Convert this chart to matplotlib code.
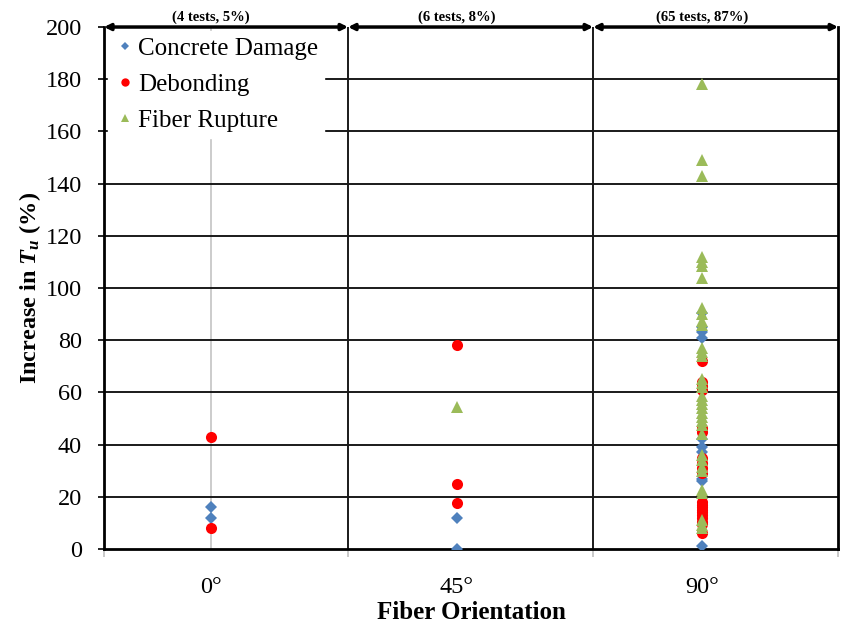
import numpy as np
import matplotlib.pyplot as plt

# Data (x index: 0 -> 0deg, 1 -> 45deg, 2 -> 90deg)
orientations = ['0°', '45°', '90°']
group_notes = ['(4 tests, 5%)', '(6 tests, 8%)', '(65 tests, 87%)']

cd_0 = [16, 12]
cd_45 = [12, 0]
cd_90 = [90.5, 85, 83, 81, 42, 39, 37, 27, 26, 1]

db_0 = [43, 8]
db_45 = [78, 25, 17.5]
db_90 = [72, 64, 62.5, 61, 46.5, 45, 35, 33, 31, 29,
         18, 17, 16, 15, 14, 13, 12, 10.5, 9.5, 6]

fr_0 = []
fr_45 = [54.5]
fr_90 = [178, 149, 143, 112, 110, 108.5, 104, 92.5, 90, 87.5,
         86, 77, 75.5, 74, 65, 63.5, 62, 58.5, 57, 55.5,
         54, 52, 50.5, 49, 47.5, 44, 36, 34, 31.5, 30,
         22.5, 21.5, 11, 9, 8]

# group limits along x (left edge, separators, right edge)
bounds = [-0.436, 0.558, 1.556, 2.554]

plt.rcParams['font.family'] = ['Liberation Serif', 'DejaVu Serif']
plt.rcParams['mathtext.fontset'] = 'custom'
plt.rcParams['mathtext.it'] = 'Liberation Serif:italic:bold'
plt.rcParams['mathtext.rm'] = 'Liberation Serif:bold'

fig = plt.figure(figsize=(8.57, 6.3), dpi=100)
ax = fig.add_axes([0.1214, 0.1286, 0.8566, 0.8285])


def xs(i, vals):
    return [i] * len(vals)


cd_x = xs(0, cd_0) + xs(1, cd_45) + xs(2, cd_90)
cd_y = cd_0 + cd_45 + cd_90
db_x = xs(0, db_0) + xs(1, db_45) + xs(2, db_90)
db_y = db_0 + db_45 + db_90
fr_x = xs(0, fr_0) + xs(1, fr_45) + xs(2, fr_90)
fr_y = fr_0 + fr_45 + fr_90

ax.plot(cd_x, cd_y, 'D', color='#4F81BD', markersize=6, markeredgewidth=0,
        label='Concrete Damage', zorder=4)
ax.plot(db_x, db_y, 'o', color='#FF0000', markersize=8, markeredgewidth=0,
        label='Debonding', zorder=4)
ax.plot(fr_x, fr_y, '^', color='#9BBB59', markersize=8, markeredgewidth=0,
        label='Fiber Rupture', zorder=4)

# grid and separators
for v in range(20, 200, 20):
    ax.axhline(v, color='#1a1a1a', lw=1.4, zorder=2)
ax.axvline(0, color='#c8c8c8', lw=1.3, zorder=1)
for b in bounds[1:3]:
    ax.axvline(b, color='#1a1a1a', lw=1.4, zorder=2)

ax.set_xlim(bounds[0], bounds[-1])
ax.set_ylim(0, 200)
ax.set_yticks(range(0, 201, 20))
ax.set_xticks([0, 1, 2])
ax.set_xticklabels(orientations)
ax.set_xticks(bounds, minor=True)
ax.tick_params(axis='x', which='major', length=0, pad=20, labelsize=17.5)
ax.tick_params(axis='x', which='minor', length=6, color='#c0c0c0', width=1.2)
ax.tick_params(axis='y', length=4, width=1.2, pad=12, labelsize=17.5)

for side in ['left', 'bottom', 'right']:
    ax.spines[side].set_linewidth(2)
    ax.spines[side].set_color('black')
ax.spines['top'].set_visible(False)

# arrows spanning each group along the top
for i in range(3):
    ax.annotate('', xy=(bounds[i + 1], 200), xytext=(bounds[i], 200),
                arrowprops=dict(arrowstyle='<|-|>', lw=2.5, color='black',
                                shrinkA=0, shrinkB=0, mutation_scale=9),
                annotation_clip=False, zorder=6)
    ax.text(i, 201.3, group_notes[i], ha='center', va='bottom',
            fontsize=10.5, fontweight='bold')

ax.set_xlabel('Fiber Orientation', fontsize=18, fontweight='bold', labelpad=2)
ax.set_ylabel(r'Increase in $T_u$ (%)', fontsize=17.5, fontweight='bold', labelpad=2)

leg = ax.legend(loc='upper left', fontsize=18, frameon=True, fancybox=False,
                framealpha=1, edgecolor='white', handletextpad=0.05,
                handlelength=0.9, borderaxespad=0.15, borderpad=0.25,
                labelspacing=0.55, markerscale=0.75)
leg.set_zorder(5)

fig.savefig('out.png', dpi=100)
